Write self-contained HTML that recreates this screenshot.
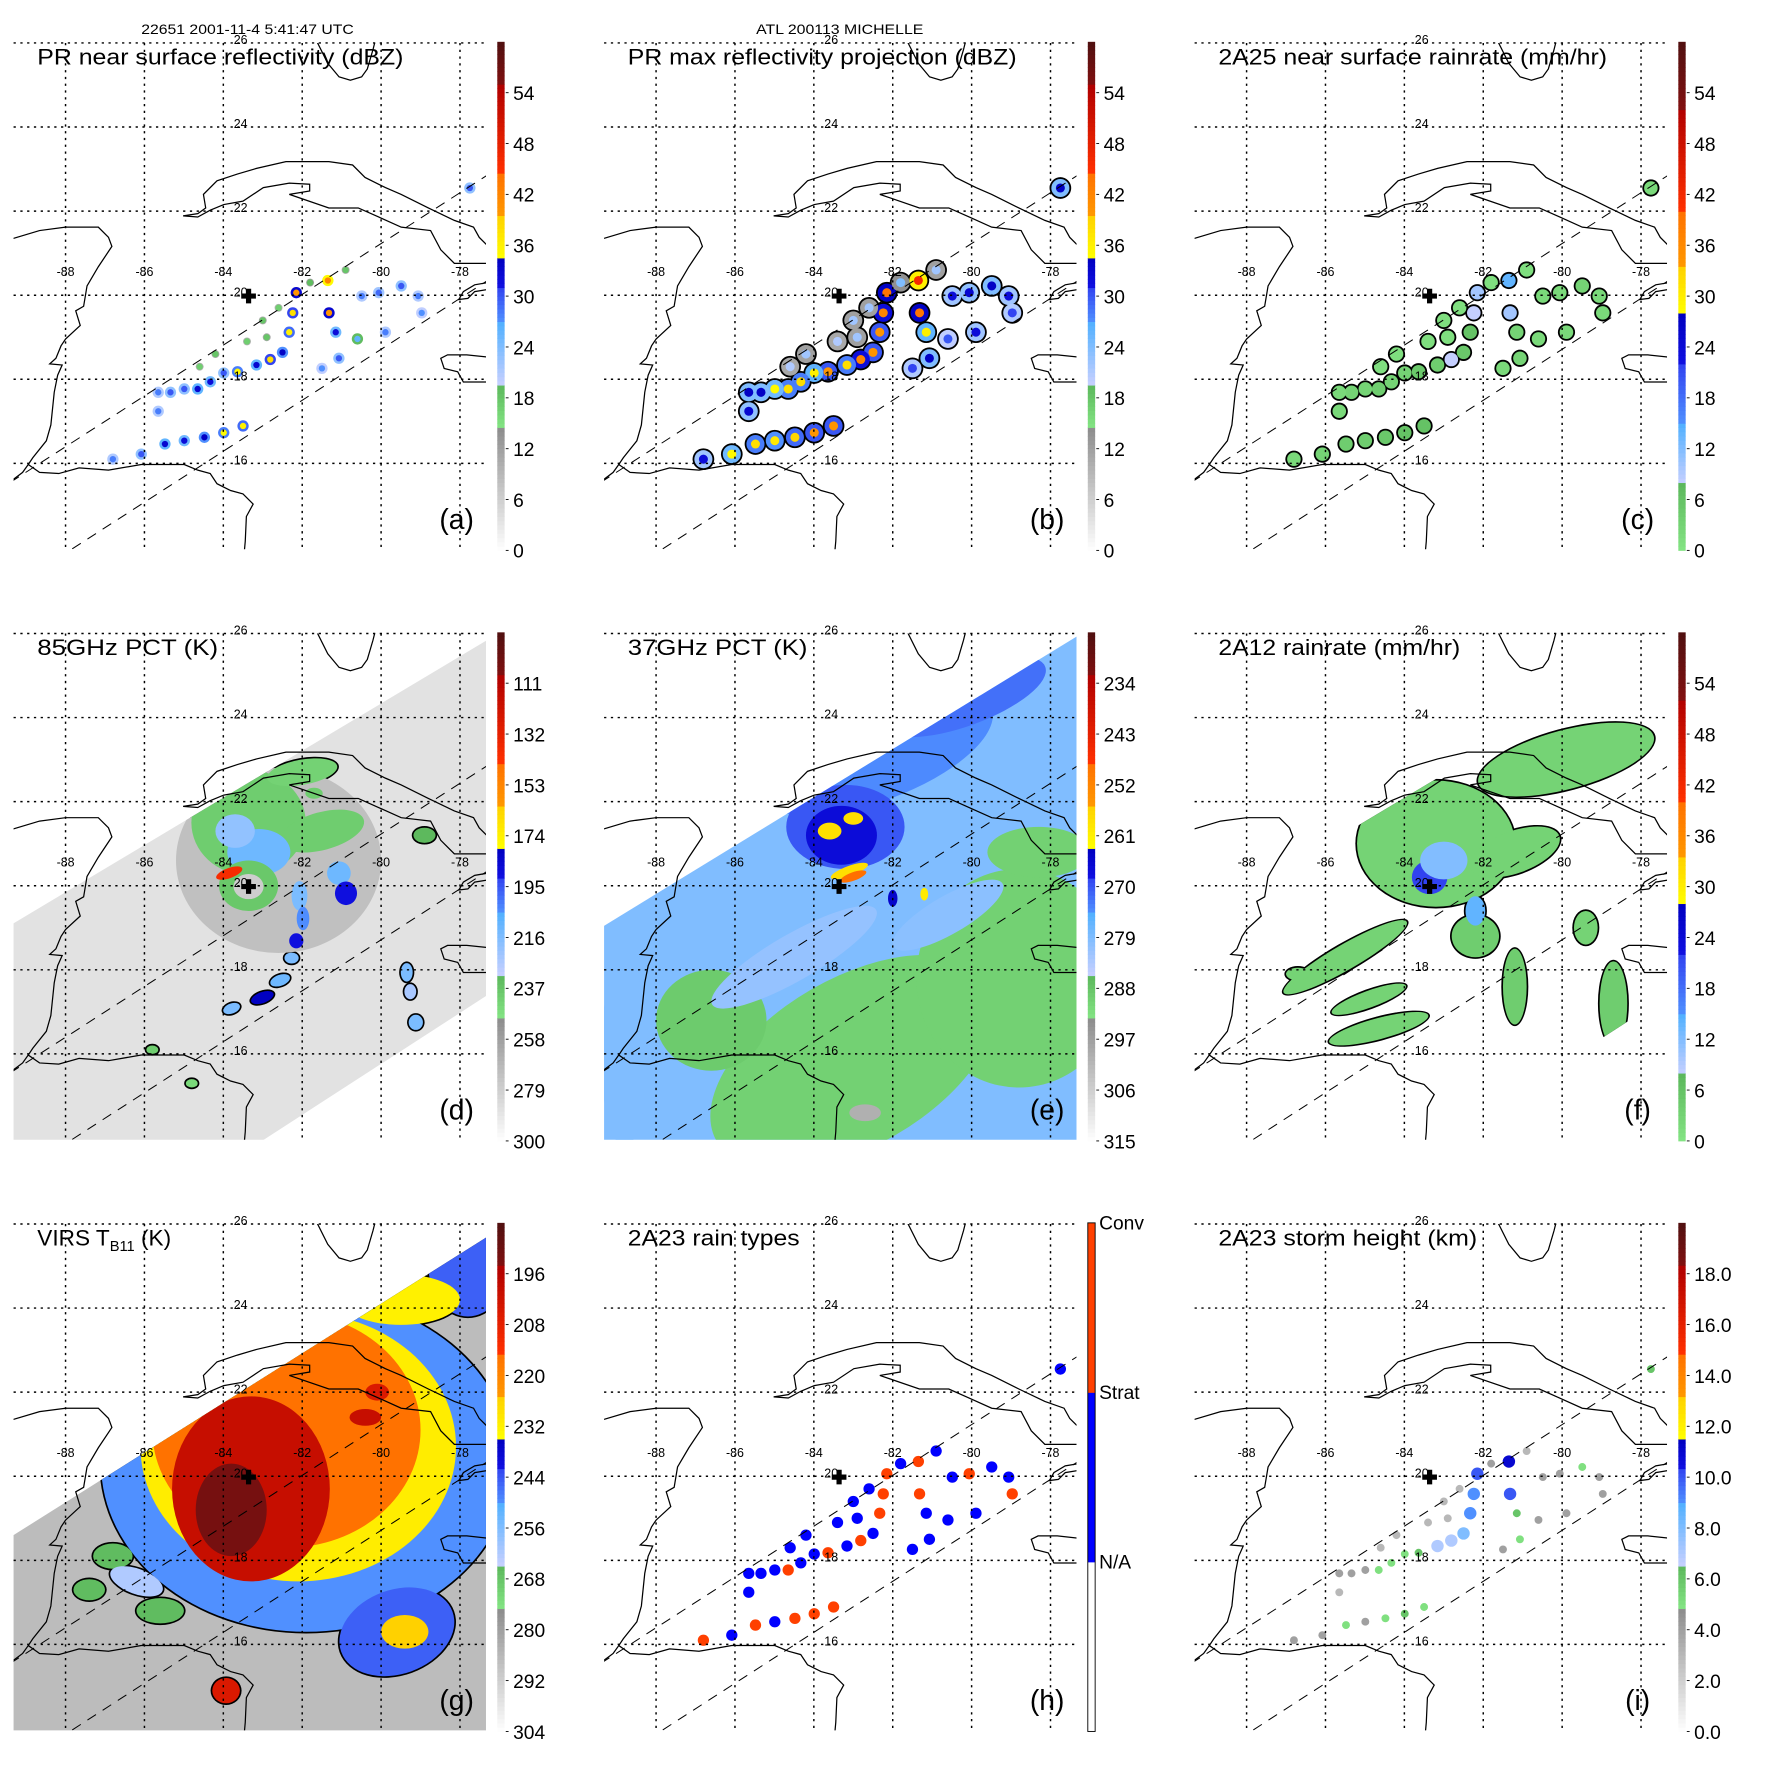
<!DOCTYPE html>
<html><head><meta charset="utf-8">
<style>html,body{margin:0;padding:0;background:#fff}svg{display:block}text{font-family:"Liberation Sans",Arial,sans-serif;fill:#000}</style>
</head><body>
<svg id="fig" xmlns="http://www.w3.org/2000/svg" width="1771" height="1771" viewBox="0 0 1567 1567"></svg>
<script>
// ---------- data ----------
const tickDbz = ['0','6','12','18','24','30','36','42','48','54'];
const tickRain = ['0','6','12','18','24','30','36','42','48','54'];
const tick85 = ['300','279','258','237','216','195','174','153','132','111'];
const tick37 = ['315','306','297','288','279','270','261','252','243','234'];
const tickVirs = ['304','292','280','268','256','244','232','220','208','196'];
const tickHeight = ['0.0','2.0','4.0','6.0','8.0','10.0','12.0','14.0','16.0','18.0'];
const tickType = ['N/A','Strat','Conv'];
const latTicks = [26,24,22,20,18,16];
const lonTicks = [-88,-86,-84,-82,-80,-78];

// TRMM PR rain cells
const prLon = [-82.15,-82.24,-82.33,-82.50,-82.81,-83.16,-83.64,-83.99,-84.33,-84.65,-84.99,-85.34,-85.65,-85.65,
  -81.35,-81.32,-81.15,-81.07,-86.08,-85.48,-84.99,-84.48,-83.99,-83.50,
  -80.49,-80.06,-79.49,-79.06,-78.97,-79.89,-81.50,-80.60,
  -83.0,-82.6,-82.9,-83.4,-84.2,-81.8,-80.9,-84.6,-77.75,-86.8];
const prLat = [20.06,19.58,19.12,18.64,18.47,18.34,18.18,18.15,17.94,17.77,17.77,17.69,17.69,17.24,
  20.35,19.58,19.12,18.50,16.22,16.46,16.54,16.62,16.73,16.89,
  19.98,20.06,20.22,19.98,19.58,19.12,18.26,18.96,
  19.4,19.7,19.0,18.9,18.6,20.3,20.6,18.3,22.55,16.1];
const prDbz = [40,38,36,34,38,33,35,30,32,33,30,30,28,28, 42,40,32,30, 30,33,32,34,35,36, 28,29,30,28,27,28,27,26, 18,17,18,17,18,19,18,17,30,28];
const prMaxDbz = [44,42,40,40,42,38,40,36,38,38,35,34,34,33, 46,44,36,34, 35,38,37,39,40,40, 32,33,34,32,31,32,31,30, 22,22,22,21,22,24,22,21,34,32];
const prRain = [10,8,6,5,8,4,5,3,3,4,3,3,2,2, 14,10,3,3, 3,4,4,5,6,6, 2,2,3,2,2,2,2,2, 1,1,1,1,1,1,1,1,2,2];
const prType = [2,2,2,1,2,1,2,1,1,2,1,1,1,1, 2,2,1,1, 1,2,1,2,2,2, 1,2,1,1,2,1,1,1, 1,1,1,1,1,1,1,1,1,2];
const prHeight = [10,9,9,8,7,7,6,5,5,5,4,4,4,3, 11,10,6,5, 4,5,4,5,6,5, 4,4,5,4,4,4,4,4, 3,3,3,3,3,4,3,3,6,4];

// swaths (lon/lat corners)
const tmiSwLon = [-89.4,-77.3,-77.3,-83.07,-89.4];
const tmiSwLat = [19.06,25.85,17.40,13.9,13.9];
const e37SwLon = [-89.4,-77.3,-77.3,-89.4];
const e37SwLat = [19.0,25.95,13.9,13.9];
const virsSwLon = [-89.4,-77.3,-77.3,-89.4];
const virsSwLat = [18.55,25.7,13.9,13.9];
const prEdgeLon = [[-89.4,-77.3],[-88.6,-77.3]];
const prEdgeLat = [[15.55,22.86],[13.5,20.35]];
const stormLon = -83.36, stormLat = 19.98;

// 85 GHz PCT features
const d85Lon = [-82.6,-83.36,-81.5,-82.0,-83.1,-83.7,-83.36,-83.36,-83.85,-82.07,-81.98,-82.15,-82.27,-82.56,-83.01,-83.79,-81.07,-80.89,-79.35,-79.26,-79.12,-78.34,-78.9,-81.7,-85.8,-84.8];
const d85Lat = [20.6,21.5,21.3,22.7,20.8,21.3,20.0,19.98,20.3,19.76,19.22,18.69,18.28,17.75,17.34,17.08,20.30,19.82,17.94,17.48,16.75,15.95,21.2,22.2,16.1,15.3];
const d85Rx = [2.6,1.45,1.1,0.9,0.8,0.5,0.75,0.38,0.35,0.2,0.16,0.18,0.18,0.26,0.3,0.22,0.3,0.28,0.15,0.15,0.18,0.22,0.28,0.22,0.15,0.15];
const d85Ry = [2.2,1.25,0.45,0.3,0.55,0.4,0.6,0.3,0.12,0.35,0.28,0.18,0.13,0.13,0.13,0.12,0.28,0.28,0.22,0.18,0.18,0.13,0.18,0.13,0.1,0.1];
const d85Rot = [0,0,-15,-10,0,0,0,0,-20,0,0,0,0,-20,-20,-20,0,0,0,0,0,-30,0,0,0,0];
const d85Val = [272,240,240,242,212,220,238,278,140,215,205,190,215,212,180,215,212,190,215,225,215,225,232,240,240,245];

// 37 GHz PCT features
const e37Lon = [-83.0,-78.8,-78.3,-86.6,-88.8,-84.5,-80.6,-82.5,-80.2,-83.2,-83.3,-83.6,-83.0,-83.1,-83.0,-82.0,-81.2,-82.7];
const e37Lat = [15.8,17.8,20.8,16.8,16.0,18.3,19.3,23.2,24.5,21.4,21.2,21.3,21.6,20.35,20.22,19.7,19.8,14.6];
const e37Rx = [4.0,2.6,1.3,1.4,0.6,2.4,1.6,3.2,2.2,1.5,0.9,0.3,0.25,0.5,0.35,0.12,0.1,0.4];
const e37Ry = [2.0,2.6,0.6,1.2,2.2,0.55,0.45,1.2,0.7,1.0,0.7,0.2,0.15,0.12,0.1,0.2,0.15,0.2];
const e37Rot = [-30,0,0,0,0,-30,-30,-20,-20,0,0,0,0,-20,-20,0,0,0];
const e37Val = [290,290,290,289,279,281,280,274,272,270,267,258,258,258,248,265,260,300];

// 2A12 rain features
const f12Lon = [-83.2,-79.9,-81.2,-83.36,-83.0,-85.5,-84.65,-84.9,-81.2,-78.7,-86.7,-79.4,-82.2,-82.2];
const f12Lat = [21.0,23.0,20.8,20.2,20.6,18.3,16.6,17.3,17.6,17.2,17.9,19.0,18.8,19.4];
const f12Rx = [2.0,2.3,1.2,0.45,0.6,1.8,1.3,1.0,0.3,0.35,0.3,0.3,0.6,0.25];
const f12Ry = [1.5,0.7,0.5,0.4,0.45,0.3,0.25,0.2,0.9,1.0,0.15,0.4,0.5,0.35];
const f12Rot = [0,-15,-20,0,0,-30,-15,-20,0,0,0,0,0,0];
const f12Val = [3,3,3,22,12,3,3,3,4,4,3,3,4,14];

// VIRS TB11 features
const gIrLon = [-81.9,-82.1,-82.4,-83.3,-83.8,-79.6,-79.4,-83.93,-86.8,-85.6,-87.4,-86.2,-77.8,-79.5,-80.4,-80.1];
const gIrLat = [20.3,20.7,21.1,19.7,19.2,16.3,16.3,14.9,18.1,16.8,17.3,17.5,25.0,24.2,21.4,22.0];
const gIrRx = [5.2,4.0,3.4,2.0,0.9,1.5,0.6,0.35,0.5,0.6,0.4,0.7,1.0,1.5,0.4,0.3];
const gIrRy = [4.0,3.2,2.8,2.2,1.1,1.0,0.4,0.3,0.3,0.3,0.25,0.3,1.2,0.6,0.2,0.2];
const gIrRot = [0,0,0,0,0,-20,0,0,0,0,0,20,0,0,0,0];
const gIrVal = [250,231,215,200,192,245,225,205,266,266,266,262,245,232,200,205];

// ---------- colormaps ----------
const segStd = [[0,0.242,'#ffffff','#8c8c8c'],[0.242,0.325,'#84e484','#5cb85c'],[0.325,0.45,'#c8d0ff','#50b0ff'],[0.45,0.52,'#5090ff','#3040f0'],[0.52,0.575,'#1010e0','#0000c0'],[0.575,0.66,'#ffff00','#ffd000'],[0.66,0.745,'#ff9800','#ff7000'],[0.745,0.915,'#ff3000','#b00000'],[0.915,1.0001,'#801010','#501010']];
const segC = [[0,0.13,'#84e484','#5cb85c'],[0.13,0.25,'#c8d0ff','#50b0ff'],[0.25,0.37,'#5090ff','#3040f0'],[0.37,0.465,'#1010e0','#0000c0'],[0.465,0.56,'#ffff00','#ffd000'],[0.56,0.67,'#ff9800','#ff7000'],[0.67,0.87,'#ff3000','#b00000'],[0.87,1.0001,'#801010','#501010']];
const segH = [[0,0.333,'#ffffff','#ffffff'],[0.333,0.667,'#0000ff','#0000ff'],[0.667,1.0001,'#ff4000','#ff4000']];

const NS='http://www.w3.org/2000/svg';
const svg=document.getElementById('fig');
function mk(tag, attrs, parent){const e=document.createElementNS(NS,tag);for(const k in attrs)e.setAttribute(k,attrs[k]);parent.appendChild(e);return e;}
function h2r(h){return [parseInt(h.substr(1,2),16),parseInt(h.substr(3,2),16),parseInt(h.substr(5,2),16)];}
function segColor(seg,t){t=Math.max(0,Math.min(1,t));for(const s of seg){if(t>=s[0]&&t<s[1]){const f=(t-s[0])/(s[1]-s[0]);const a=h2r(s[2]),b=h2r(s[3]);return 'rgb('+a.map((v,i)=>Math.round(v+(b[i]-v)*f)).join(',')+')';}}return seg[seg.length-1][3];}
function cmap(p,v){return segColor(p.seg,(v-p.v0)/(p.v1-p.v0));}

const P=522.5;
const panels=[
 {key:'a',col:0,row:0,title:'PR near surface reflectivity (dBZ)',tw:324,seg:segStd,v0:0,v1:60,ticks:tickDbz},
 {key:'b',col:1,row:0,title:'PR max reflectivity projection (dBZ)',tw:344,seg:segStd,v0:0,v1:60,ticks:tickDbz},
 {key:'c',col:2,row:0,title:'2A25 near surface rainrate (mm/hr)',tw:344,seg:segC,v0:0,v1:60,ticks:tickRain},
 {key:'d',col:0,row:1,title:'85GHz PCT (K)',tw:160,seg:segStd,v0:300,v1:90,ticks:tick85},
 {key:'e',col:1,row:1,title:'37GHz PCT (K)',tw:159,seg:segStd,v0:315,v1:225,ticks:tick37},
 {key:'f',col:2,row:1,title:'2A12 rainrate (mm/hr)',tw:214,seg:segC,v0:0,v1:60,ticks:tickRain},
 {key:'g',col:0,row:2,title:'VIRS',tw:130,seg:segStd,v0:304,v1:184,ticks:tickVirs},
 {key:'h',col:1,row:2,title:'2A23 rain types',tw:152,seg:segH,v0:0,v1:3,ticks:[]},
 {key:'i',col:2,row:2,title:'2A23 storm height (km)',tw:229,seg:segStd,v0:0,v1:20,ticks:tickHeight}
];
function lonX(p,lon){return p.ox+58+(lon+88)*34.9;}
function latY(p,lat){return p.oy+38+(26-lat)*37.2;}

const coastPaths=[
 'M11.6,211 L35,204 L58,201 L87,201 L96,210 L99,218 L87,236 L77,253 L74,271 L67,275 L71,288 L58,300 L54,306 L49.5,317 L44,322 L55,323 L51,332 L48,347 L45,376 L41,390 L29,405 L25,411 L35,418 L52,419 L70,414 L96,416 L125,411 L163,411 L175,416 L186,419 L192,428 L204,434 L215,437 L224,446 L218,457 L217,479 L216,490',
 'M12,424 L20,418 L25,411',
 'M162,191 L175,189 L182,184 L180,172 L192,160 L210,154 L227,149 L253,143 L291,143 L312,146 L323,157 L341,166 L355,172 L379,184 L402,195 L419,201 L424,210 L432,218 M432,233 L424,233 L402,233 L390,221 L381,204 L355,201 L335,192 L317,184 L291,184 L256,172 L274,169 L274,163 L256,162 L233,166 L215,178 L198,181 L186,186 L175,192 L162,191',
 'M280,36 L290,56 L300,68 L310,71 L320,68 L325,61 L330,44 L332,36',
 'M432,250 L420,252 L410,258 L406,265 L414,264 L420,258 L432,256',
 'M432,316 L413,314 L396,314 L390,317 L393,326 L405,329 L410,338 L432,338'
];

function poly(p,lons,lats){return lons.map((l,i)=>lonX(p,l).toFixed(1)+','+latY(p,lats[i]).toFixed(1)).join(' ');}

function blobs(p,g,lon,lat,rx,ry,rot,val,outlineTest){
  for(let i=0;i<lon.length;i++){
    if(!outlineTest(val[i]))continue;
    const cx=lonX(p,lon[i]),cy=latY(p,lat[i]);
    const el=mk('ellipse',{cx:cx,cy:cy,rx:rx[i]*34.9+1.5,ry:ry[i]*37.2+1.5,fill:'#000',transform:'rotate('+rot[i]+' '+cx+' '+cy+')'},g);
    
    
  }
  for(let i=0;i<lon.length;i++){
    const cx=lonX(p,lon[i]),cy=latY(p,lat[i]);
    const el=mk('ellipse',{cx:cx,cy:cy,rx:rx[i]*34.9,ry:ry[i]*37.2,fill:cmap(p,val[i]),transform:'rotate('+rot[i]+' '+cx+' '+cy+')'},g);
    
    
  }
}

function prCells(p,g,vals,halo,core,outline,haloShift){
  if(outline){
    for(let i=0;i<prLon.length;i++){
      const c=mk('circle',{cx:lonX(p,prLon[i]),cy:latY(p,prLat[i]),r:halo+1.6,fill:'#000'},g);
      
      
    }
  }
  for(let i=0;i<prLon.length;i++){
    const weak=vals[i]<p.v0+(p.v1-p.v0)*0.33&&!outline;
    const c=mk('circle',{cx:lonX(p,prLon[i]),cy:latY(p,prLat[i]),r:weak?3.5:halo,fill:cmap(p,vals[i]-haloShift)},g);
    
    
  }
  for(let i=0;i<prLon.length;i++){
    if(core<=0)continue;
    const c=mk('circle',{cx:lonX(p,prLon[i]),cy:latY(p,prLat[i]),r:core,fill:cmap(p,vals[i])},g);
    
    
  }
}

// headers
const h1=mk('text',{x:219,y:30,'font-size':12,'text-anchor':'middle',textLength:188,lengthAdjust:'spacingAndGlyphs'},svg);
h1.textContent='22651 2001-11-4 5:41:47 UTC';


const h2=mk('text',{x:743,y:30,'font-size':12,'text-anchor':'middle',textLength:148,lengthAdjust:'spacingAndGlyphs'},svg);
h2.textContent='ATL 200113 MICHELLE';



panels.forEach(p=>{
  p.ox=p.col*P; p.oy=p.row*P;
  const G=mk('g',{},svg);
  
  
  const cp=mk('clipPath',{id:'clip-'+p.key},G);
  mk('rect',{x:p.ox+12,y:p.oy+38,width:418,height:448},cp);
  const M=mk('g',{'clip-path':'url(#clip-'+p.key+')'},G);
  
  

  if(p.key==='d'||p.key==='e'||p.key==='g'||p.key==='f'){
    let sl=tmiSwLon,sa=tmiSwLat,base=null;
    if(p.key==='d'){base=cmap(p,287);}
    if(p.key==='e'){sl=e37SwLon;sa=e37SwLat;base=cmap(p,279);}
    if(p.key==='g'){sl=virsSwLon;sa=virsSwLat;base=cmap(p,287);}
    const scp=mk('clipPath',{id:'swclip-'+p.key},G);
    mk('polygon',{points:poly(p,sl,sa)},scp);
    if(base){
      const sw=mk('polygon',{points:poly(p,sl,sa),fill:base},M);
      
      
    }
    const D=mk('g',{'clip-path':'url(#swclip-'+p.key+')'},M);
    
    
    if(p.key==='d')blobs(p,D,d85Lon,d85Lat,d85Rx,d85Ry,d85Rot,d85Val,v=>v<250);
    if(p.key==='e')blobs(p,D,e37Lon,e37Lat,e37Rx,e37Ry,e37Rot,e37Val,v=>false);
    if(p.key==='f')blobs(p,D,f12Lon,f12Lat,f12Rx,f12Ry,f12Rot,f12Val,v=>v>0);
    if(p.key==='g')blobs(p,D,gIrLon,gIrLat,gIrRx,gIrRy,gIrRot,gIrVal,v=>v<270);
  }
  if(p.key==='a')prCells(p,M,prDbz,5,2.8,false,7);
  if(p.key==='b')prCells(p,M,prMaxDbz,8,4,true,10);
  if(p.key==='c')prCells(p,M,prRain,6,3,true,0);
  if(p.key==='h')prCells(p,M,prType.map(v=>v+0.5),5,0,false,0);
  if(p.key==='i')prCells(p,M,prHeight,5.5,0,false,0);

  coastPaths.forEach((d,i)=>{
    const c=mk('path',{d:d,fill:'none',stroke:'#000','stroke-width':1.1,transform:'translate('+p.ox+','+p.oy+')'},M);
    
    
  });
  latTicks.forEach(lat=>{
    const y=latY(p,lat);
    const l=mk('line',{x1:p.ox+12,x2:p.ox+430,y1:y,y2:y,stroke:'#000','stroke-width':1.3,'stroke-dasharray':'2,4'},G);
    
    
    const t=mk('text',{x:lonX(p,-83.56),y:y+1,'font-size':11,'text-anchor':'middle'},G);
    t.textContent=String(lat);
    
    
  });
  lonTicks.forEach(lon=>{
    const x=lonX(p,lon);
    const l=mk('line',{x1:x,x2:x,y1:p.oy+38,y2:p.oy+486,stroke:'#000','stroke-width':1.3,'stroke-dasharray':'2,4'},G);
    
    
    const t=mk('text',{x:x,y:latY(p,20.46),'font-size':11,'text-anchor':'middle'},G);
    t.textContent=String(lon);
    
    
  });
  prEdgeLon.forEach((ln,i)=>{
    const l=mk('line',{x1:lonX(p,ln[0]),y1:latY(p,prEdgeLat[i][0]),x2:lonX(p,ln[1]),y2:latY(p,prEdgeLat[i][1]),stroke:'#000','stroke-width':0.9,'stroke-dasharray':'9,7'},M);
    
    
  });
  const cx=lonX(p,stormLon),cy=latY(p,stormLat);
  const cr=mk('path',{d:'M'+(cx-6.5)+','+(cy-2.3)+'h13v4.6h-13z M'+(cx-2.3)+','+(cy-6.5)+'h4.6v13h-4.6z',fill:'#000'},G);
  
  

  const tt=mk('text',{x:p.ox+33,y:p.oy+57,'font-size':20},G);
  if(p.key==='g'){
    const a=mk('tspan',{},tt);a.textContent='VIRS T';
    const b=mk('tspan',{'font-size':13,dy:5},tt);b.textContent='B11';
    const c=mk('tspan',{dy:-5},tt);c.textContent=' (K)';
  } else {
    tt.setAttribute('textLength',p.tw);
    tt.setAttribute('lengthAdjust','spacingAndGlyphs');
    tt.textContent=p.title;
  }
  
  
  const pl=mk('text',{x:p.ox+404,y:p.oy+468,'font-size':25,'text-anchor':'middle'},G);
  pl.textContent='('+p.key+')';
  
  

  const CB=mk('g',{},G);
  
  
  const x0=p.ox+440,top=p.oy+37,bot=p.oy+487,n=120;
  for(let k=0;k<n;k++){
    const t=(k+0.5)/n;
    const r=mk('rect',{x:x0,y:bot-(k+1)*(bot-top)/n,width:6.5,height:(bot-top)/n+0.4,fill:segColor(p.seg,t)},CB);
    
    
  }
  if(p.key==='h'){
    const o=mk('rect',{x:x0,y:top,width:6.5,height:bot-top,fill:'none',stroke:'#000','stroke-width':0.8},CB);
    
    
    tickType.forEach((s,i)=>{
      const t=mk('text',{x:x0+10,y:bot-(i+1)/3*(bot-top)+6,'font-size':17},CB);
      t.textContent=s;
      
      
    });
  } else {
    p.ticks.forEach((s,i)=>{
      const y=bot-i*45;
      const tk=mk('line',{x1:x0+7.5,x2:x0+10,y1:y,y2:y,stroke:'#000','stroke-width':0.8},CB);
      
      
      const t=mk('text',{x:x0+14,y:y+6.5,'font-size':17},CB);
      t.textContent=s;
      
      
    });
  }
});
</script>
</body></html>
